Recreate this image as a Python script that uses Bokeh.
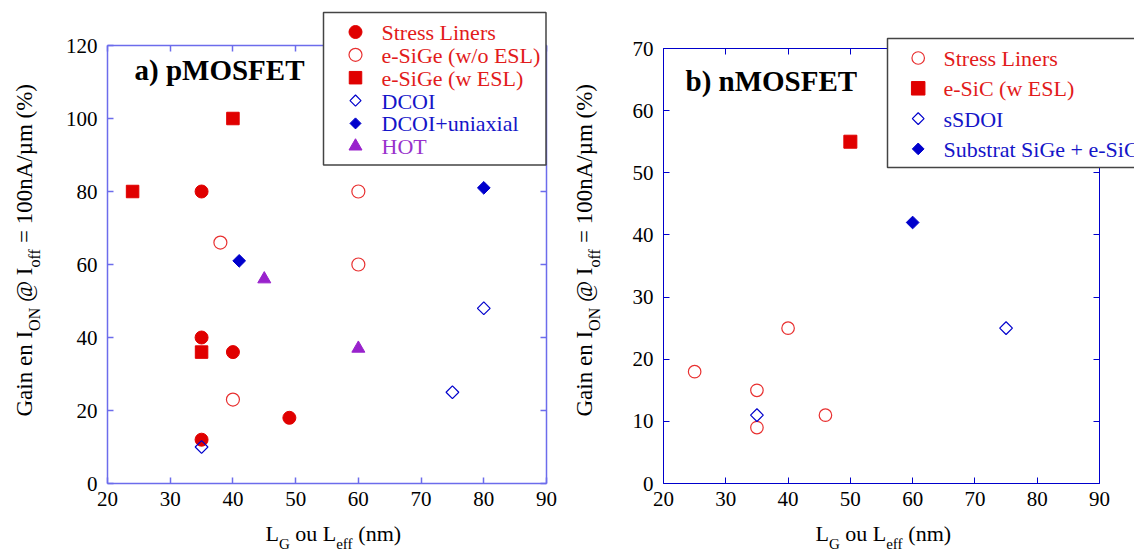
from math import pi
from bokeh.plotting import figure
from bokeh.layouts import row
from bokeh.models import Label, LinearAxis, FixedTicker, CustomJSTickFormatter, Range1d
from bokeh.embed import file_html
from bokeh.resources import INLINE

# ---------------- data : a) pMOSFET ----------------
p_stress_x = [35, 35, 40, 35, 49]
p_stress_y = [80, 40, 36, 12, 18]
p_esige_wo_x = [38, 60, 60, 40]
p_esige_wo_y = [66, 80, 60, 23]
p_esige_w_x = [24, 40, 35]
p_esige_w_y = [80, 100, 36]
p_dcoi_x = [35, 75, 80]
p_dcoi_y = [10, 25, 48]
p_dcoi_uni_x = [41, 80]
p_dcoi_uni_y = [61, 81]
p_hot_x = [45, 60]
p_hot_y = [56, 37]

# ---------------- data : b) nMOSFET ----------------
n_stress_x = [25, 35, 35, 40, 46]
n_stress_y = [18, 15, 9, 25, 11]
n_esic_x = [50]
n_esic_y = [55]
n_ssdoi_x = [35, 75]
n_ssdoi_y = [11, 25]
n_sub_x = [60]
n_sub_y = [42]

# ---------------- axes / texts ----------------
X_RANGE = (20, 90)
X_TICKS = [20, 30, 40, 50, 60, 70, 80, 90]
P_Y_RANGE = (0, 120)
P_Y_TICKS = [0, 20, 40, 60, 80, 100, 120]
N_Y_RANGE = (0, 70)
N_Y_TICKS = [0, 10, 20, 30, 40, 50, 60, 70]

P_TITLE = "a) pMOSFET"
N_TITLE = "b) nMOSFET"
P_LEGEND = ["Stress Liners", "e-SiGe (w/o ESL)", "e-SiGe (w ESL)", "DCOI", "DCOI+uniaxial", "HOT"]
N_LEGEND = ["Stress Liners", "e-SiC (w ESL)", "sSDOI", "Substrat SiGe + e-SiC"]
X_LABEL = [("L", False), ("G", True), (" ou L", False), ("eff", True), (" (nm)", False)]
Y_LABEL = [("Gain en I", False), ("ON", True), (" @ I", False), ("off", True),
           (" = 100nA/µm (%)", False)]

# ---------------- styles / layout ----------------
RED = "#e00000"
RED_LINE = "#e83030"
BLUE = "#0000cc"
PURPLE = "#9922cc"
TXT_RED = "#e21b1b"
TXT_BLUE = "#1515c8"
TXT_PURPLE = "#9932cc"
FONT = "Liberation Serif"
H = 553
# page-pixel geometry of each panel: canvas x0/width and data-area edges
P_AREA = dict(x0=0, width=560, left=107, right=546, top=45, bottom=483)
N_AREA = dict(x0=560, width=574, left=663, right=1099, top=48, bottom=483)

TIMES = {' ': 250, '(': 333, ')': 333, '%': 833, '/': 278, '=': 564, '@': 921, 'µ': 500,
         '0': 500, '1': 500, 'A': 722, 'G': 722, 'I': 333, 'L': 611, 'N': 722, 'O': 722,
         'a': 444, 'e': 444, 'f': 333, 'i': 278, 'm': 778, 'n': 500, 'o': 500, 'u': 500}


def tw(s, px):
    return sum(TIMES.get(c, 500) for c in s) * px / 1000.0


class Panel:
    def __init__(self, area, yr, yticks, axis_color, axis_w):
        self.a = area
        self.sx = (area['right'] - area['left']) / (X_RANGE[1] - X_RANGE[0])
        self.xs = X_RANGE[0] - (area['left'] - area['x0']) / self.sx
        self.sy = (area['bottom'] - area['top']) / (yr[1] - yr[0])
        self.ys = yr[0] - (H - area['bottom']) / self.sy
        p = figure(width=area['width'], height=H,
                   x_range=Range1d(self.xs, self.xs + area['width'] / self.sx),
                   y_range=Range1d(self.ys, self.ys + H / self.sy),
                   output_backend="svg", toolbar_location=None, min_border=0,
                   x_axis_type=None, y_axis_type=None)
        p.title.visible = False
        p.outline_line_color = None
        p.background_fill_color = "white"
        p.border_fill_color = "white"
        specs = [("below", yr[0], X_RANGE, X_TICKS, True),
                 ("above", yr[1], X_RANGE, X_TICKS, False),
                 ("left", X_RANGE[0], yr, yticks, True),
                 ("right", X_RANGE[1], yr, yticks, False)]
        for loc, fixed, bounds, ticks, labels in specs:
            ax = LinearAxis(fixed_location=fixed, bounds=bounds, ticker=FixedTicker(ticks=ticks))
            ax.level = "underlay"
            ax.axis_line_color = axis_color
            ax.axis_line_width = axis_w
            ax.major_tick_line_color = axis_color
            ax.major_tick_line_width = axis_w
            ax.major_tick_in = 6
            ax.major_tick_out = 0
            ax.minor_tick_line_color = None
            ax.major_label_text_font = FONT
            ax.major_label_text_font_size = "21px"
            ax.major_label_text_color = "black"
            ax.major_label_standoff = 8 if loc == "below" else 10
            if not labels:
                ax.formatter = CustomJSTickFormatter(code="return ''")
                ax.major_label_text_font_size = "1px"
                ax.major_label_standoff = 0
            p.add_layout(ax, loc)
        self.p = p

    # page pixel -> data coordinate
    def dx(self, px):
        return self.xs + (px - self.a['x0']) / self.sx

    def dy(self, py):
        return self.ys + (H - py) / self.sy

    def text(self, px, py, text, size, color="black", bold=False, angle=0.0):
        self.p.add_layout(Label(x=px - self.a['x0'], y=H - py, x_units="screen", y_units="screen",
                                text=text, text_font=FONT, text_font_size=f"{size}px",
                                text_color=color, text_font_style="bold" if bold else "normal",
                                text_align="left", text_baseline="middle", angle=angle))

    def rich_h(self, x0, mid, pieces, mpx, spx, drop):
        x = x0
        for txt, sub in pieces:
            px = spx if sub else mpx
            core = txt.strip(' ')
            lead = len(txt) - len(txt.lstrip(' '))
            trail = len(txt) - len(txt.rstrip(' '))
            x += lead * tw(' ', px)
            self.text(x, mid + (drop if sub else 0), core, px)
            x += tw(core, px) + trail * tw(' ', px)

    def rich_v(self, y0, mid, pieces, mpx, spx, drop):
        y = y0
        for txt, sub in pieces:
            px = spx if sub else mpx
            core = txt.strip(' ')
            lead = len(txt) - len(txt.lstrip(' '))
            trail = len(txt) - len(txt.rstrip(' '))
            y -= lead * tw(' ', px)
            self.text(mid + (drop if sub else 0), y, core, px, angle=pi / 2)
            y -= tw(core, px) + trail * tw(' ', px)

    def legend_box(self, l, r, t, b):
        self.p.quad(left=[self.dx(l)], right=[self.dx(r)], top=[self.dy(t)], bottom=[self.dy(b)],
                    fill_color="white", line_color="#444444", line_width=1.5)

    def symbol(self, px, py, **kw):
        self.p.scatter([self.dx(px)], [self.dy(py)], **kw)


# marker styles
ST_FCIRC = dict(marker="circle", fill_color=RED, line_color=RED)
ST_OCIRC = dict(marker="circle", fill_color=None, line_color=RED_LINE, line_width=1.2)
ST_FSQ = dict(marker="square", fill_color=RED, line_color=RED)
ST_ODIA = dict(marker="square", angle=pi / 4, fill_color=None, line_color=BLUE, line_width=1.2)
ST_FDIA = dict(marker="square", angle=pi / 4, fill_color=BLUE, line_color=BLUE)
ST_TRI = dict(marker="triangle", fill_color=PURPLE, line_color=PURPLE)

# ======================= left : pMOSFET =======================
L = Panel(P_AREA, P_Y_RANGE, P_Y_TICKS, "#6c6cec", 1.5)
p1 = L.p
L.legend_box(323, 545.5, 12, 164.5)
p1.scatter(p_stress_x, p_stress_y, size=13, **ST_FCIRC)
p1.scatter(p_esige_wo_x, p_esige_wo_y, size=13, **ST_OCIRC)
p1.scatter(p_esige_w_x, p_esige_w_y, size=12.5, **ST_FSQ)
p1.scatter(p_dcoi_x, p_dcoi_y, size=9, **ST_ODIA)
p1.scatter(p_dcoi_uni_x, p_dcoi_uni_y, size=9, **ST_FDIA)
p1.scatter(p_hot_x, p_hot_y, size=13, **ST_TRI)

p_syms = [(ST_FCIRC, 13), (ST_OCIRC, 13), (ST_FSQ, 12.5), (ST_ODIA, 7.8), (ST_FDIA, 7.8), (ST_TRI, 13)]
p_cols = [TXT_RED, TXT_RED, TXT_RED, TXT_BLUE, TXT_BLUE, TXT_PURPLE]
for i, (t, c, (st, sz)) in enumerate(zip(P_LEGEND, p_cols, p_syms)):
    yrow = 31.5 + 22.85 * i
    L.symbol(355, yrow, size=sz, **st)
    L.text(381, yrow + 0.5, t, 22, color=c)

L.text(134, 69, P_TITLE, 29, bold=True)
L.rich_h(265, 532.5, X_LABEL, 22, 15, 10.5)
L.rich_v(416, 24, Y_LABEL, 23, 16, 10)

# ======================= right : nMOSFET =======================
R = Panel(N_AREA, N_Y_RANGE, N_Y_TICKS, "#0000cc", 1)
p2 = R.p
R.legend_box(887, 1200, 38, 167)
p2.scatter(n_stress_x, n_stress_y, size=12.5, **ST_OCIRC)
p2.scatter(n_esic_x, n_esic_y, size=13, **ST_FSQ)
p2.scatter(n_ssdoi_x, n_ssdoi_y, size=9, **ST_ODIA)
p2.scatter(n_sub_x, n_sub_y, size=9, **ST_FDIA)

n_syms = [(ST_OCIRC, 12.5), (ST_FSQ, 13.5), (ST_ODIA, 8.3), (ST_FDIA, 8.3)]
n_cols = [TXT_RED, TXT_RED, TXT_BLUE, TXT_BLUE]
for i, (t, c, (st, sz)) in enumerate(zip(N_LEGEND, n_cols, n_syms)):
    yrow = 57.5 + 30.3 * i
    R.symbol(917.7, yrow, size=sz, **st)
    R.text(943, yrow + 0.5, t, 22, color=c)

R.text(685, 80, N_TITLE, 29, bold=True)
R.rich_h(815, 532.5, X_LABEL, 22, 15, 10.5)
R.rich_v(416, 584, Y_LABEL, 23, 16, 10)

layout = row(p1, p2)
open("out.html", "w").write(file_html(layout, INLINE))
